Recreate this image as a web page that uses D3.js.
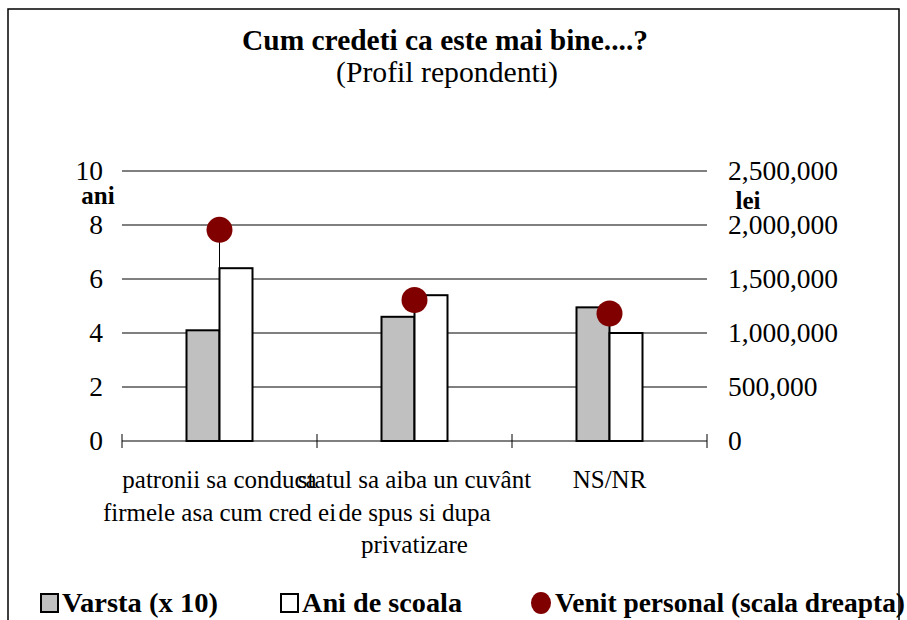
<!DOCTYPE html>
<html>
<head>
<meta charset="utf-8">
<script src="https://cdn.jsdelivr.net/npm/d3@7"></script>
<style>
  body { margin: 0; background: #fff; }
</style>
</head>
<body>
<div id="chart"></div>
<script>
// categories (each label already split into lines as in the picture)
var categories = ["patronii", "statul", "nsnr"];
var categoryLines = [
    ["patronii sa conduca", "firmele asa cum cred ei"],
    ["statul sa aiba un cuvânt", "de spus si dupa", "privatizare"],
    ["NS/NR"]
];
var varsta = [4.1, 4.6, 4.95];          // varsta / 10, left scale
var aniScoala = [6.4, 5.4, 4.0];       // left scale
var venit = [1955000, 1305000, 1180000]; // right scale (lei)
var leftTicks = [0, 2, 4, 6, 8, 10];
var rightTicks = [0, 500000, 1000000, 1500000, 2000000, 2500000];

var width = 907, height = 620;
var serif = "'Liberation Serif', 'Times New Roman', serif";

var svg = d3.select("#chart").append("svg")
    .attr("width", width)
    .attr("height", height);

// outer frame
svg.append("rect")
    .attr("x", 8).attr("y", 9)
    .attr("width", 891).attr("height", 640)
    .attr("fill", "none").attr("stroke", "#000").attr("stroke-width", 1.5);

var x0 = d3.scaleBand()
    .domain(categories)
    .range([122, 707]);

var yLeft = d3.scaleLinear().domain([0, 10]).range([441, 171]);
var yRight = d3.scaleLinear().domain([0, 2500000]).range([441, 171]);

var barW = 33;

// gridlines
svg.append("g").selectAll("line")
    .data(leftTicks.slice(1))
    .enter().append("line")
    .attr("x1", 122).attr("x2", 707)
    .attr("y1", function(d) { return yLeft(d); })
    .attr("y2", function(d) { return yLeft(d); })
    .attr("stroke", "#000").attr("stroke-width", 1);

// left axis labels
svg.append("g").selectAll("text")
    .data(leftTicks)
    .enter().append("text")
    .attr("x", 103)
    .attr("y", function(d) { return yLeft(d) + 9; })
    .attr("text-anchor", "end")
    .attr("font-size", 27.5)
    .text(function(d) { return d; });

// right axis labels
var fmt = d3.format(",");
svg.append("g").selectAll("text")
    .data(rightTicks)
    .enter().append("text")
    .attr("x", 728)
    .attr("y", function(d) { return yRight(d) + 9; })
    .attr("font-size", 27.5)
    .text(function(d) { return fmt(d); });

// axis unit labels
svg.append("text").attr("x", 98).attr("y", 204)
    .attr("text-anchor", "middle").attr("font-size", 25).attr("font-weight", "bold")
    .text("ani");
svg.append("text").attr("x", 748).attr("y", 209)
    .attr("text-anchor", "middle").attr("font-size", 25).attr("font-weight", "bold")
    .text("lei");

// bars
var groups = svg.append("g").selectAll("g")
    .data(categories)
    .enter().append("g");

groups.append("rect")
    .attr("x", function(d) { return x0(d) + x0.bandwidth() / 2 - barW; })
    .attr("y", function(d, i) { return yLeft(varsta[i]); })
    .attr("width", barW)
    .attr("height", function(d, i) { return yLeft(0) - yLeft(varsta[i]); })
    .attr("fill", "#c0c0c0").attr("stroke", "#000").attr("stroke-width", 2);

groups.append("rect")
    .attr("x", function(d) { return x0(d) + x0.bandwidth() / 2; })
    .attr("y", function(d, i) { return yLeft(aniScoala[i]); })
    .attr("width", barW)
    .attr("height", function(d, i) { return yLeft(0) - yLeft(aniScoala[i]); })
    .attr("fill", "#fff").attr("stroke", "#000").attr("stroke-width", 2);

// x axis line and ticks
svg.append("line")
    .attr("x1", 122).attr("x2", 707).attr("y1", 441).attr("y2", 441)
    .attr("stroke", "#000").attr("stroke-width", 1);
var tickXs = categories.map(function(d) { return x0(d); }).concat([707]);
svg.append("g").selectAll("line")
    .data(tickXs)
    .enter().append("line")
    .attr("x1", function(d) { return d; }).attr("x2", function(d) { return d; })
    .attr("y1", 434).attr("y2", 448)
    .attr("stroke", "#000").attr("stroke-width", 1);

// drop line from dot down to the bar when the dot sits above the bars
groups.each(function(d, i) {
    var top = Math.min(yLeft(varsta[i]), yLeft(aniScoala[i]));
    var cy = yRight(venit[i]);
    if (cy < top) {
        d3.select(this).append("line")
            .attr("x1", x0(d) + x0.bandwidth() / 2).attr("x2", x0(d) + x0.bandwidth() / 2)
            .attr("y1", cy).attr("y2", top)
            .attr("stroke", "#000").attr("stroke-width", 1);
    }
});

// venit dots
groups.append("circle")
    .attr("cx", function(d) { return x0(d) + x0.bandwidth() / 2; })
    .attr("cy", function(d, i) { return yRight(venit[i]); })
    .attr("r", 13)
    .attr("fill", "#800000");

// category labels
svg.append("g").selectAll("text")
    .data(categories)
    .enter().append("text")
    .attr("text-anchor", "middle")
    .attr("font-size", 25)
    .each(function(d, i) {
        var t = d3.select(this);
        categoryLines[i].forEach(function(line, j) {
            t.append("tspan")
                .attr("x", x0(d) + x0.bandwidth() / 2)
                .attr("y", 488 + j * 32.5)
                .text(line);
        });
    });

// title
svg.append("text").attr("x", 445).attr("y", 50)
    .attr("text-anchor", "middle").attr("font-size", 29).attr("font-weight", "bold")
    .attr("textLength", 406).attr("lengthAdjust", "spacingAndGlyphs")
    .text("Cum credeti ca este mai bine....?");
svg.append("text").attr("x", 447).attr("y", 82)
    .attr("text-anchor", "middle").attr("font-size", 29)
    .attr("textLength", 222).attr("lengthAdjust", "spacingAndGlyphs")
    .text("(Profil repondenti)");

// legend
var legendItems = [
    {label: "Varsta (x 10)", x: 40, kind: "rect", fill: "#c0c0c0", len: 156},
    {label: "Ani de scoala", x: 280, kind: "rect", fill: "#fff", len: 160},
    {label: "Venit personal (scala dreapta)", x: 533, kind: "circle", fill: "#800000", len: 350}
];
var lg = svg.append("g").selectAll("g")
    .data(legendItems)
    .enter().append("g");
lg.each(function(d) {
    var g = d3.select(this);
    if (d.kind == "rect") {
        g.append("rect").attr("x", d.x + 1).attr("y", 594)
            .attr("width", 17).attr("height", 18)
            .attr("fill", d.fill).attr("stroke", "#000").attr("stroke-width", 2);
    } else {
        g.append("ellipse").attr("cx", d.x + 8).attr("cy", 603)
            .attr("rx", 10).attr("ry", 11).attr("fill", d.fill);
    }
    g.append("text").attr("x", d.x + 22).attr("y", 612)
        .attr("font-size", 27).attr("font-weight", "bold")
        .attr("textLength", d.len).attr("lengthAdjust", "spacingAndGlyphs")
        .text(d.label);
});

// every text in Times-like serif
svg.selectAll("text").style("font-family", serif);
</script>
</body>
</html>
